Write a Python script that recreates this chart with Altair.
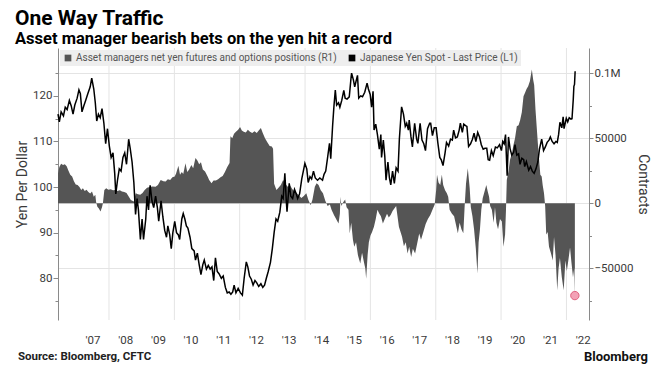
import altair as alt
import pandas as pd

SERIES_POS = "Asset managers net yen futures and options positions (R1)"
SERIES_YEN = "Japanese Yen Spot - Last Price (L1)"

yen_dates = [
    "2006-06-10", "2006-06-25", "2006-07-15", "2006-08-10", "2006-08-30", "2006-09-20",
    "2006-10-15", "2006-11-05", "2006-11-25", "2006-12-15", "2007-01-10", "2007-01-30",
    "2007-02-15", "2007-03-05", "2007-03-25", "2007-04-15", "2007-05-10", "2007-06-05",
    "2007-06-22", "2007-07-15", "2007-08-01", "2007-08-17", "2007-09-05", "2007-09-25",
    "2007-10-15", "2007-11-05", "2007-11-25", "2007-12-15", "2008-01-05", "2008-01-25",
    "2008-02-15", "2008-03-05", "2008-03-17", "2008-04-05", "2008-04-25", "2008-05-15",
    "2008-06-05", "2008-06-25", "2008-07-15", "2008-08-08", "2008-08-25", "2008-09-15",
    "2008-10-05", "2008-10-24", "2008-11-10", "2008-11-25", "2008-12-17", "2009-01-05",
    "2009-01-21", "2009-02-15", "2009-03-01", "2009-03-18", "2009-04-05", "2009-04-25",
    "2009-05-15", "2009-06-05", "2009-06-25", "2009-07-10", "2009-08-05", "2009-08-25",
    "2009-09-15", "2009-10-05", "2009-10-20", "2009-11-10", "2009-11-27", "2009-12-15",
    "2010-01-05", "2010-01-25", "2010-02-15", "2010-03-01", "2010-03-25", "2010-04-10",
    "2010-04-28", "2010-05-15", "2010-06-01", "2010-06-25", "2010-07-15", "2010-08-10",
    "2010-08-25", "2010-09-15", "2010-10-05", "2010-10-25", "2010-11-15", "2010-12-01",
    "2010-12-25", "2011-01-15", "2011-02-05", "2011-02-25", "2011-03-17", "2011-04-05",
    "2011-04-25", "2011-05-15", "2011-06-10", "2011-07-01", "2011-07-25", "2011-08-15",
    "2011-09-05", "2011-09-25", "2011-10-15", "2011-10-31", "2011-11-20", "2011-12-15",
    "2012-01-10", "2012-01-31", "2012-02-20", "2012-03-15", "2012-04-01", "2012-04-20",
    "2012-05-10", "2012-05-30", "2012-06-20", "2012-07-10", "2012-08-01", "2012-08-25",
    "2012-09-15", "2012-10-05", "2012-10-25", "2012-11-15", "2012-12-10", "2012-12-31",
    "2013-01-20", "2013-02-10", "2013-03-01", "2013-03-25", "2013-04-15", "2013-05-01",
    "2013-05-20", "2013-06-05", "2013-06-13", "2013-07-08", "2013-07-25", "2013-08-15",
    "2013-09-05", "2013-09-25", "2013-10-10", "2013-11-01", "2013-11-25", "2013-12-30",
    "2014-01-20", "2014-02-05", "2014-02-25", "2014-03-15", "2014-04-05", "2014-04-25",
    "2014-05-20", "2014-06-15", "2014-07-15", "2014-08-01", "2014-08-20", "2014-09-10",
    "2014-10-01", "2014-10-15", "2014-11-05", "2014-11-20", "2014-12-05", "2014-12-20",
    "2015-01-10", "2015-01-25", "2015-02-15", "2015-03-10", "2015-03-25", "2015-04-15",
    "2015-05-10", "2015-05-31", "2015-06-05", "2015-06-25", "2015-07-10", "2015-08-10",
    "2015-08-24", "2015-09-15", "2015-10-05", "2015-10-30", "2015-11-25", "2015-12-10",
    "2015-12-30", "2016-01-15", "2016-01-31", "2016-02-11", "2016-03-01", "2016-03-20",
    "2016-04-10", "2016-04-27", "2016-05-05", "2016-05-25", "2016-06-10", "2016-06-24",
    "2016-07-15", "2016-08-01", "2016-08-16", "2016-09-05", "2016-09-25", "2016-10-15",
    "2016-11-05", "2016-11-20", "2016-12-15", "2017-01-05", "2017-01-25", "2017-02-10",
    "2017-03-01", "2017-03-10", "2017-03-30", "2017-04-15", "2017-05-10", "2017-06-01",
    "2017-06-15", "2017-07-10", "2017-07-31", "2017-08-20", "2017-09-08", "2017-10-01",
    "2017-10-25", "2017-11-05", "2017-11-25", "2017-12-15", "2018-01-05", "2018-01-25",
    "2018-02-15", "2018-03-05", "2018-03-23", "2018-04-15", "2018-05-01", "2018-05-25",
    "2018-06-15", "2018-07-05", "2018-07-20", "2018-08-10", "2018-08-30", "2018-09-20",
    "2018-10-03", "2018-10-25", "2018-11-10", "2018-11-30", "2018-12-15", "2019-01-03",
    "2019-01-25", "2019-02-15", "2019-03-05", "2019-03-25", "2019-04-15", "2019-05-05",
    "2019-05-25", "2019-06-15", "2019-07-05", "2019-07-25", "2019-08-10", "2019-08-26",
    "2019-09-15", "2019-10-05", "2019-10-30", "2019-11-20", "2019-12-15", "2020-01-05",
    "2020-01-20", "2020-02-05", "2020-02-20", "2020-03-09", "2020-03-24", "2020-04-10",
    "2020-04-30", "2020-05-20", "2020-06-05", "2020-06-25", "2020-07-15", "2020-07-31",
    "2020-08-20", "2020-09-10", "2020-09-21", "2020-10-10", "2020-11-05", "2020-11-25",
    "2020-12-15", "2021-01-05", "2021-01-25", "2021-02-15", "2021-03-05", "2021-03-30",
    "2021-04-20", "2021-05-10", "2021-05-30", "2021-06-20", "2021-07-05", "2021-07-25",
    "2021-08-15", "2021-09-05", "2021-09-20", "2021-10-05", "2021-10-20", "2021-11-10",
    "2021-11-25", "2021-12-05", "2021-12-30", "2022-01-15", "2022-02-01", "2022-02-20",
    "2022-03-04", "2022-03-18", "2022-03-25", "2022-04-01", "2022-04-08",
]
yen_values = [
    116.0, 114.3, 116.5, 115.6, 117.5, 117.0,
    119.0, 117.8, 116.0, 118.0, 119.5, 121.3,
    120.5, 116.5, 117.8, 119.0, 120.5, 122.0,
    123.9, 121.5, 118.5, 114.5, 116.0, 115.2,
    117.2, 114.0, 109.5, 112.8, 109.0, 106.5,
    107.5, 103.0, 98.5, 101.5, 104.0, 103.5,
    106.5, 107.5, 105.0, 110.5, 108.5, 105.5,
    101.0, 94.0, 97.5, 95.0, 88.5, 93.0,
    88.5, 93.0, 98.0, 95.0, 100.4, 97.0,
    95.5, 98.0, 95.5, 92.5, 97.0, 93.5,
    90.5, 89.0, 91.5, 89.5, 86.5, 90.0,
    92.5, 90.0, 89.5, 88.5, 93.0, 94.2,
    93.0, 91.5, 91.0, 89.0, 86.5, 86.0,
    84.0, 85.5, 83.0, 80.8, 83.0, 84.0,
    82.0, 82.8, 82.0, 82.5, 79.5, 84.5,
    81.5, 81.0, 80.0, 80.5, 78.0, 76.8,
    77.0, 76.5, 77.0, 78.5, 76.8, 77.8,
    76.8, 76.3, 80.0, 83.6, 82.5, 80.5,
    79.8, 78.5, 79.5, 79.0, 78.2, 78.8,
    78.0, 78.5, 80.0, 81.5, 83.5, 86.5,
    90.0, 93.0, 92.5, 94.5, 98.0, 97.5,
    103.0, 97.0, 94.6, 100.8, 98.0, 97.5,
    99.5, 98.5, 97.5, 98.5, 101.8, 105.2,
    104.0, 101.0, 102.3, 101.8, 103.5, 102.0,
    101.5, 102.0, 101.5, 102.8, 103.5, 106.5,
    109.6, 106.2, 113.5, 117.8, 121.3, 118.0,
    118.5, 117.5, 119.0, 121.2, 119.5, 119.3,
    119.8, 124.2, 125.0, 123.5, 122.0, 124.5,
    119.5, 120.0, 119.8, 120.8, 122.8, 121.5,
    120.3, 117.5, 121.0, 112.5, 113.8, 111.5,
    108.3, 111.5, 106.5, 110.3, 106.8, 101.5,
    105.5, 102.0, 100.5, 103.5, 100.8, 104.2,
    103.5, 110.5, 117.6, 116.0, 113.3, 114.0,
    112.5, 114.7, 111.0, 108.8, 114.0, 110.5,
    109.6, 114.0, 110.3, 109.5, 108.0, 112.8,
    114.0, 114.0, 111.3, 113.0, 113.0, 109.6,
    106.5, 105.9, 104.7, 107.5, 109.8, 109.0,
    110.5, 110.3, 112.5, 110.8, 111.0, 112.5,
    114.0, 112.0, 113.8, 113.5, 113.3, 108.9,
    109.5, 110.5, 111.8, 110.0, 112.0, 111.0,
    109.3, 108.3, 108.5, 108.5, 106.0, 105.9,
    108.0, 106.9, 108.8, 108.6, 109.3, 108.0,
    110.0, 109.5, 111.5, 102.5, 111.0, 108.5,
    107.0, 107.6, 109.3, 107.0, 107.3, 105.0,
    106.3, 106.0, 104.5, 105.6, 103.7, 104.5,
    103.5, 103.0, 104.0, 105.5, 108.3, 110.5,
    108.0, 108.8, 109.8, 110.3, 111.0, 110.0,
    109.5, 110.0, 109.8, 111.5, 114.2, 113.0,
    115.4, 112.8, 115.1, 114.3, 115.2, 114.9,
    115.0, 119.2, 122.1, 122.5, 125.4,
]

pos_dates = [
    "2006-06-10", "2006-06-25", "2006-07-15", "2006-08-05", "2006-08-25", "2006-09-15",
    "2006-10-05", "2006-10-25", "2006-11-15", "2006-12-05", "2006-12-25", "2007-01-15",
    "2007-02-05", "2007-02-25", "2007-03-15", "2007-04-05", "2007-04-25", "2007-05-15",
    "2007-06-05", "2007-06-25", "2007-07-15", "2007-08-01", "2007-08-10", "2007-08-24",
    "2007-09-10", "2007-09-28", "2007-10-15", "2007-10-25", "2007-11-10", "2007-12-01",
    "2007-12-25", "2008-01-20", "2008-02-15", "2008-03-10", "2008-04-05", "2008-05-01",
    "2008-05-25", "2008-06-20", "2008-07-15", "2008-08-10", "2008-09-01", "2008-10-05",
    "2008-10-25", "2008-11-20", "2008-12-15", "2009-01-10", "2009-02-01", "2009-03-01",
    "2009-04-01", "2009-05-01", "2009-06-05", "2009-07-01", "2009-08-01", "2009-09-01",
    "2009-09-25", "2009-10-20", "2009-11-15", "2009-12-10", "2010-01-05", "2010-01-20",
    "2010-02-15", "2010-03-05", "2010-03-25", "2010-04-10", "2010-05-05", "2010-05-25",
    "2010-06-15", "2010-07-10", "2010-07-30", "2010-08-25", "2010-09-15", "2010-10-05",
    "2010-10-25", "2010-11-15", "2010-12-10", "2011-01-05", "2011-01-25", "2011-02-20",
    "2011-03-15", "2011-04-10", "2011-05-05", "2011-06-01", "2011-06-25", "2011-07-20",
    "2011-08-15", "2011-09-10", "2011-09-20", "2011-10-10", "2011-10-30", "2011-11-20",
    "2011-12-15", "2012-01-05", "2012-01-25", "2012-02-15", "2012-03-10", "2012-04-01",
    "2012-04-25", "2012-05-20", "2012-06-15", "2012-07-10", "2012-08-01", "2012-08-25",
    "2012-09-15", "2012-10-10", "2012-11-05", "2012-12-01", "2012-12-25", "2013-01-08",
    "2013-01-20", "2013-02-15", "2013-03-10", "2013-04-05", "2013-05-01", "2013-05-25",
    "2013-06-20", "2013-07-15", "2013-08-10", "2013-09-05", "2013-10-01", "2013-10-25",
    "2013-11-20", "2013-12-15", "2014-01-15", "2014-02-05", "2014-03-05", "2014-03-25",
    "2014-04-20", "2014-05-10", "2014-06-01", "2014-06-25", "2014-07-20", "2014-08-15",
    "2014-09-10", "2014-10-05", "2014-10-25", "2014-11-20", "2014-12-20", "2015-01-10",
    "2015-01-25", "2015-02-01", "2015-02-10", "2015-03-05", "2015-03-25", "2015-04-10",
    "2015-05-01", "2015-05-15", "2015-06-01", "2015-06-20", "2015-07-05", "2015-07-25",
    "2015-08-15", "2015-09-10", "2015-09-30", "2015-10-20", "2015-11-05", "2015-11-15",
    "2015-12-01", "2015-12-15", "2016-01-01", "2016-01-20", "2016-02-10", "2016-03-01",
    "2016-03-20", "2016-04-10", "2016-04-28", "2016-05-20", "2016-06-10", "2016-07-05",
    "2016-07-25", "2016-08-15", "2016-09-05", "2016-09-25", "2016-10-15", "2016-11-15",
    "2016-12-20", "2017-01-10", "2017-01-30", "2017-02-20", "2017-03-10", "2017-04-01",
    "2017-04-20", "2017-05-15", "2017-06-10", "2017-06-30", "2017-07-20", "2017-08-15",
    "2017-09-10", "2017-10-05", "2017-11-01", "2017-12-01", "2017-12-20", "2018-01-05",
    "2018-01-15", "2018-02-01", "2018-02-20", "2018-03-10", "2018-03-25", "2018-04-15",
    "2018-05-05", "2018-05-20", "2018-06-05", "2018-07-01", "2018-07-25", "2018-08-20",
    "2018-09-05", "2018-09-25", "2018-10-15", "2018-11-05", "2018-11-20", "2018-12-05",
    "2018-12-25", "2019-01-15", "2019-01-28", "2019-02-15", "2019-03-05", "2019-03-25",
    "2019-04-12", "2019-04-25", "2019-05-10", "2019-05-25", "2019-06-10", "2019-06-25",
    "2019-07-20", "2019-08-05", "2019-08-20", "2019-09-01", "2019-09-20", "2019-10-10",
    "2019-10-25", "2019-11-10", "2019-11-28", "2019-12-20", "2020-01-10", "2020-01-28",
    "2020-02-15", "2020-02-25", "2020-03-05", "2020-03-25", "2020-04-10", "2020-05-01",
    "2020-05-15", "2020-06-05", "2020-06-25", "2020-07-15", "2020-08-01", "2020-08-20",
    "2020-09-08", "2020-09-25", "2020-10-12", "2020-10-30", "2020-11-18", "2020-12-10",
    "2020-12-25", "2021-01-05", "2021-01-20", "2021-02-15", "2021-03-05", "2021-03-15",
    "2021-03-30", "2021-04-10", "2021-04-25", "2021-05-08", "2021-05-20", "2021-06-05",
    "2021-06-20", "2021-07-10", "2021-08-01", "2021-08-15", "2021-09-01", "2021-09-20",
    "2021-10-05", "2021-10-20", "2021-11-10", "2021-12-01", "2021-12-20", "2022-01-05",
    "2022-01-20", "2022-02-10", "2022-02-25", "2022-03-15", "2022-03-29", "2022-04-05",
]
pos_values = [
    23000, 28000, 30400, 29500, 30000, 28500,
    25000, 22000, 20600, 17000, 14500, 14000,
    12500, 10300, 11500, 9500, 10500, 8700,
    7500, 9000, 5100, 6500, 1000, -2600,
    -4000, -6400, -3000, 0, 10300, 11600,
    10500, 10800, 10000, 10300, 9500, 10000,
    9000, 8700, 8000, 5000, 2600, 1300,
    7700, 7000, 6500, 8000, 10000, 12000,
    12500, 13000, 12800, 14000, 18000, 17000,
    16700, 18500, 18000, 20000, 20600, 23000,
    28800, 22000, 24000, 22500, 30900, 24000,
    26000, 29500, 27000, 34800, 33000, 30000,
    31500, 26000, 24500, 21000, 18000, 15400,
    17500, 17500, 18500, 20000, 21000, 24000,
    28000, 31000, 51500, 50000, 53500, 55000,
    56500, 58700, 56000, 55000, 54500, 56500,
    55000, 54000, 55500, 54000, 56000, 58000,
    54000, 50000, 47000, 44000, 43700, 42000,
    15000, 10300, 12000, 14000, 18000, 15000,
    12800, 14000, 11000, 9000, 7700, 6000,
    4000, 5500, 7700, 3000, -1500, 3000,
    12800, 15400, 14000, 10000, 7700, 2000,
    -2000, -1000, -5200, -9000, -12900, -15500,
    -8000, 5000, -2000, 1000, 3000, -3000,
    -5000, -23200, -15000, -28000, -33500, -30000,
    -40000, -46400, -38000, -45000, -50000, -58000,
    -40000, -30000, -25000, -22000, -18000, -12000,
    -5000, -8000, -10000, -15500, -12000, -8000,
    -11000, -9000, -6000, -4000, -2000, -18000,
    -25800, -33000, -30000, -38600, -33500, -41300,
    -35000, -38600, -30000, -23200, -28000, -22000,
    -16000, -12000, -9000, -4000, -1000, 10000,
    21900, 16000, 14000, 21900, 14000, 10000,
    7700, 5000, -5000, -8000, -10000, -18000,
    -23000, -15000, -20000, -23000, -2000, 15000,
    27000, 12000, -3000, -10000, -20000, -35000,
    -54100, -30000, -20000, -5000, 4000, 7700,
    14100, 9000, 5000, -2000, -5000, -15000,
    -3000, -15000, -20000, -12000, -14000, -33500,
    -24000, -5000, 18000, 25000, 33500, 38000,
    43700, 50000, 59200, 60000, 64000, 70000,
    82400, 85000, 88000, 90000, 94000, 103000,
    95000, 91000, 72000, 46400, 30000, 22000,
    20600, 14000, 7700, -2000, -24000, -22000,
    -33500, -38000, -44000, -26000, -40000, -67000,
    -50000, -42000, -57000, -67000, -44000, -52000,
    -45000, -34000, -45000, -57000, -50000, -71000,
]

yen_ticks = [75, 80, 85, 90, 95, 100, 105, 110, 115, 120, 125]
pos_ticks = [-75000, -50000, -25000, 0, 25000, 50000, 75000, 100000]
label_years = list(range(2007, 2023))
grid_dates = ["2008-01-01", "2010-01-01", "2012-01-01", "2014-01-01",
              "2016-01-01", "2018-01-01", "2020-01-01", "2022-01-01"]

FONT = "Roboto"
LABEL_COLOR = "#3a3a3a"
AXIS_COLOR = "#8a8a8a"
GRID_COLOR = "#e4e4e4"

yen_df = pd.DataFrame({"date": yen_dates, "value": yen_values, "series": SERIES_YEN})
pos_df = pd.DataFrame({"date": pos_dates, "value": pos_values, "series": SERIES_POS})
last_df = pos_df.tail(1)
grid_df = pd.DataFrame({"date": grid_dates})

x_axis = alt.Axis(
    values=[alt.DateTime(year=y, month=7, date=1) for y in label_years],
    labelExpr="\"'\" + timeFormat(datum.value, '%y')",
    ticks=False, domain=False, grid=False,
    labelFont=FONT, labelFontSize=11.5, labelColor=LABEL_COLOR,
    labelPadding=14, labelOverlap=False, labelBound=False, labelFlush=False,
    title=None,
)
x_enc = alt.X(
    "date:T",
    scale=alt.Scale(domain=[alt.DateTime(year=2006, month=6, date=10),
                            alt.DateTime(year=2022, month=9, date=10)]),
    axis=x_axis,
)

color_enc = alt.Color(
    "series:N",
    scale=alt.Scale(domain=[SERIES_POS, SERIES_YEN], range=["#555555", "#000000"]),
    legend=alt.Legend(
        title=None, orient="top-left", direction="horizontal", offset=2,
        symbolType="square", symbolSize=45, symbolStrokeWidth=0,
        labelFont=FONT, labelFontSize=10, labelColor="#555555", labelLimit=0,
        fillColor="#eeeeee", padding=3, columnPadding=10, labelOffset=3,
    ),
)

right_axis = alt.Axis(
    orient="right", values=pos_ticks,
    labelExpr="datum.value == 100000 ? '0.1M' : (datum.value % 50000 == 0 ? format(datum.value, 'd') : '')",
    tickSize={"condition": {"test": "datum.value % 50000 == 0", "value": 4}, "value": 2.5},
    grid=True, gridColor=GRID_COLOR,
    gridOpacity={"condition": {"test": "datum.value % 50000 == 0", "value": 1}, "value": 0},
    domainColor=AXIS_COLOR, tickColor=AXIS_COLOR,
    labelFont=FONT, labelFontSize=11.5, labelColor=LABEL_COLOR, labelPadding=1,
    labelOverlap=False, labelFlush=False,
    title="Contracts", titleFont=FONT, titleFontSize=14, titleFontWeight="normal",
    titleColor=LABEL_COLOR, titlePadding=3,
)
left_axis = alt.Axis(
    orient="left", values=yen_ticks,
    labelExpr="datum.value % 10 == 0 ? datum.label : ''",
    tickSize={"condition": {"test": "datum.value % 10 == 0", "value": 5}, "value": 3},
    grid=False, domainColor=AXIS_COLOR, tickColor=AXIS_COLOR,
    labelFont=FONT, labelFontSize=11.5, labelColor=LABEL_COLOR, labelPadding=1,
    labelOverlap=False, labelFlush=False,
    title="Yen Per Dollar", titleFont=FONT, titleFontSize=14, titleFontWeight="normal",
    titleColor=LABEL_COLOR, titlePadding=3,
)

pos_scale = alt.Scale(domain=[-89800, 119500], nice=False, zero=False)
yen_scale = alt.Scale(domain=[70.85, 130.5], nice=False, zero=False)
y_pos = alt.Y("value:Q", scale=pos_scale, axis=right_axis)
y_yen = alt.Y("value:Q", scale=yen_scale, axis=left_axis)

vgrid = alt.Chart(grid_df).mark_rule(color=GRID_COLOR, strokeWidth=1).encode(x=x_enc)
area = alt.Chart(pos_df).mark_area(opacity=1).encode(
    x=x_enc, y=y_pos, y2=alt.datum(0), color=color_enc,
)
dot = alt.Chart(last_df).mark_circle(
    size=70, color="#f3a2b6", stroke="#e0627e", strokeWidth=1, opacity=1
).encode(x=x_enc, y=y_pos)
area_group = alt.layer(vgrid, area, dot)

line = alt.Chart(yen_df).mark_line(strokeWidth=1.5).encode(
    x=x_enc, y=y_yen, color=color_enc,
)
source = alt.Chart(pd.DataFrame({"t": ["Source: Bloomberg, CFTC"]})).mark_text(
    align="left", baseline="middle", font=FONT, fontSize=11.5, fontWeight="bold", color="#222222"
).encode(x=alt.value(-40), y=alt.value(309), text="t:N")
brand = alt.Chart(pd.DataFrame({"t": ["Bloomberg"]})).mark_text(
    align="right", baseline="middle", font=FONT, fontSize=13, fontWeight="bold", color="#111111"
).encode(x=alt.value(590), y=alt.value(309), text="t:N")
line_group = alt.layer(line, source, brand)

chart = alt.layer(area_group, line_group).resolve_scale(y="independent").properties(
    width=531, height=272,
    padding={"left": 50, "top": 40, "right": 65, "bottom": 48},
    autosize=alt.AutoSizeParams(type="none"),
    title=alt.TitleParams(
        text="One Way Traffic",
        subtitle="Asset manager bearish bets on the yen hit a record",
        anchor="start", frame="group", dx=-43, offset=0,
        font=FONT, fontSize=21, fontWeight="bold", color="#000000",
        subtitleFont=FONT, subtitleFontSize=16.5, subtitleFontWeight="bold",
        subtitleColor="#000000", subtitlePadding=2,
    ),
).configure_view(stroke=None)

chart.save("out.html", embed_options={"renderer": "svg", "actions": False})
